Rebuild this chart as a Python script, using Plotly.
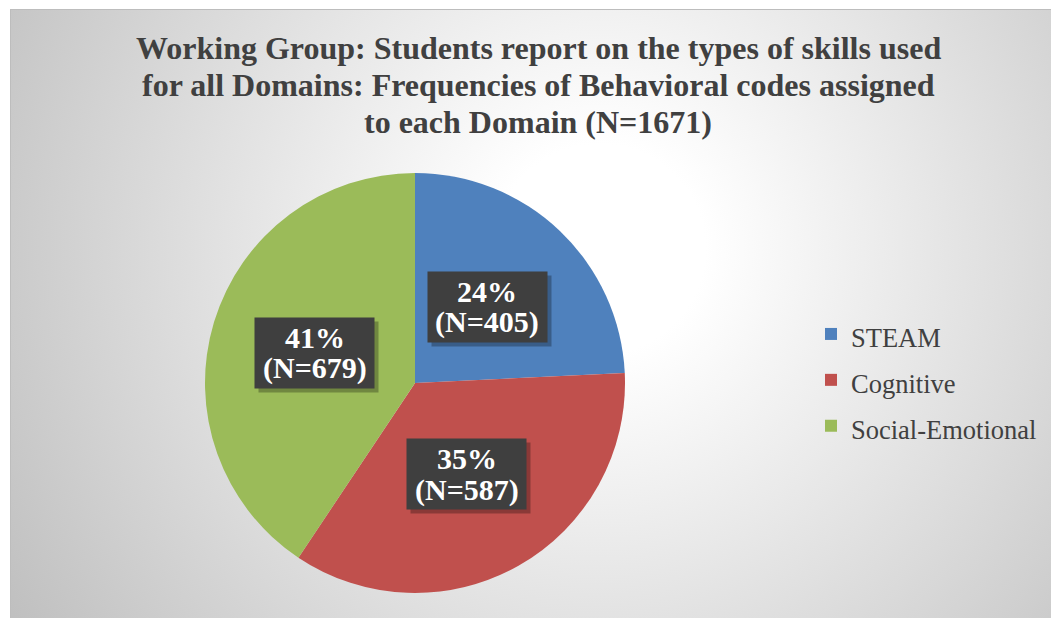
import math
import base64
import plotly.graph_objects as go

# ---- data ----
categories = ["STEAM", "Cognitive", "Social-Emotional"]
counts = [405, 587, 679]
colors = ["#4F81BD", "#C0504D", "#9BBB59"]
title_lines = [
    "Working Group: Students report on the types of skills used",
    "for all Domains: Frequencies of Behavioral codes assigned",
    "to each Domain (N=1671)",
]

W, H = 1059, 619
OFF = 8  # page body margin: figure pixel = page pixel - OFF
total = sum(counts)


def px2paper(x, y):
    return (x - OFF) / W, 1 - (y - OFF) / H


# pie placement (page pixels)
pcx, pcy, pr = 415, 383, 210
x0, y1 = px2paper(pcx - pr, pcy - pr)
x1, y0 = px2paper(pcx + pr, pcy + pr)

# background: radial gradient chart area (page pixels)
bx0, by0, bw, bh = 10, 9, 1049, 609
svg = f'''<svg xmlns="http://www.w3.org/2000/svg" width="{bw}" height="{bh}" viewBox="0 0 {bw} {bh}" preserveAspectRatio="none">
<defs><radialGradient id="g" gradientUnits="userSpaceOnUse" cx="590" cy="240" r="700">
<stop offset="0" stop-color="#ffffff"/><stop offset="0.15" stop-color="#ffffff"/><stop offset="1" stop-color="#bfbfbf"/>
</radialGradient></defs>
<rect width="{bw}" height="{bh}" fill="url(#g)"/>
<rect x="0.5" y="0.5" width="{bw+10}" height="{bh+10}" fill="none" stroke="#bdbdbd"/>
</svg>'''
src = "data:image/svg+xml;base64," + base64.b64encode(svg.encode()).decode()
ix, iy = px2paper(bx0, by0)

legend_labels = [f'<span style="font-size:26.5px">{c}</span>' for c in categories]

fig = go.Figure()
fig.add_trace(go.Pie(
    labels=legend_labels,
    values=counts,
    sort=False,
    direction="clockwise",
    rotation=0,
    marker=dict(colors=colors, line=dict(width=0)),
    textinfo="none",
    hoverinfo="skip",
    domain=dict(x=[x0, x1], y=[y0, y1]),
))

# data labels: boxes at half radius along each slice's mid-angle
annotations = []
cum = 0
lab_font = dict(family="Liberation Serif", size=30, color="#FFFFFF")
for c, v in zip(categories, counts):
    mid = (cum + v / 2) / total * 2 * math.pi
    cum += v
    lx = pcx + 0.5 * pr * math.sin(mid)
    ly = pcy - 0.5 * pr * math.cos(mid)
    ax, ay = px2paper(lx, ly)
    base = dict(x=ax, y=ay, xref="paper", yref="paper", showarrow=False,
                xanchor="center", yanchor="middle")
    # shadow
    annotations.append(dict(base, text=" ", width=119, height=70, borderpad=0,
                            bgcolor="rgba(0,0,0,0.28)", xshift=4, yshift=-4,
                            font=dict(size=10)))
    # box
    annotations.append(dict(base, text=" ", width=119, height=70, borderpad=0,
                            bgcolor="#3F3F3F", font=dict(size=10)))
    annotations.append(dict(base, text=f"<b>{round(v / total * 100)}%</b>",
                            yshift=15.5, font=lab_font))
    annotations.append(dict(base, text=f"<b>(N={v})</b>",
                            yshift=-15.5, font=lab_font))

title_y = [48, 85, 122]
for line, ty in zip(title_lines, title_y):
    tx, tyy = px2paper(538, ty)
    annotations.append(dict(
        text=f"<b>{line}</b>", x=tx, y=tyy, xref="paper", yref="paper",
        xanchor="center", yanchor="middle", showarrow=False,
        font=dict(family="Liberation Serif", size=32, color="#404040"),
    ))

lgx, lgy = px2paper(811, 380)
fig.update_layout(
    width=W, height=H,
    margin=dict(l=0, r=0, t=0, b=0),
    paper_bgcolor="#FFFFFF",
    plot_bgcolor="rgba(0,0,0,0)",
    images=[dict(source=src, xref="paper", yref="paper",
                 x=ix, y=iy, sizex=bw / W, sizey=bh / H,
                 xanchor="left", yanchor="top", sizing="stretch", layer="below")],
    annotations=annotations,
    showlegend=True,
    legend=dict(x=lgx, y=lgy, xanchor="left", yanchor="middle",
                bgcolor="rgba(0,0,0,0)",
                font=dict(family="Liberation Serif", size=33, color="#404040")),
)

fig.write_html("out.html")
